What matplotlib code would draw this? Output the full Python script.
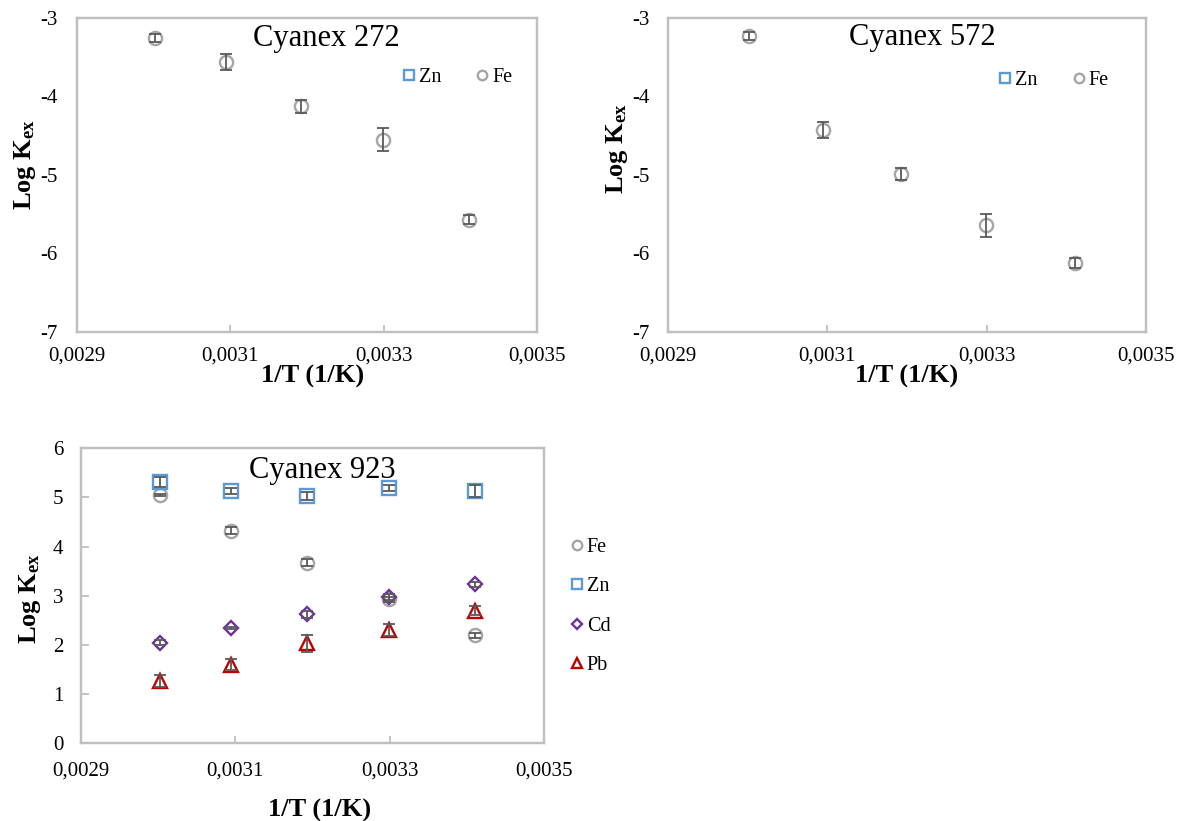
import matplotlib
matplotlib.use('Agg')
import matplotlib.pyplot as plt
from matplotlib.ticker import FixedLocator, FixedFormatter

plt.rcParams['font.family'] = ['Liberation Serif', 'DejaVu Serif']
plt.rcParams['mathtext.fontset'] = 'custom'
plt.rcParams['mathtext.rm'] = 'Liberation Serif'
plt.rcParams['mathtext.it'] = 'Liberation Serif:italic'
plt.rcParams['mathtext.bf'] = 'Liberation Serif:bold'
plt.rcParams['axes.unicode_minus'] = False

# ---------------- data ----------------
inv_T = [0.003002, 0.003095, 0.003193, 0.003299, 0.003411]

c272_fe = [-3.26, -3.565, -4.125, -4.55, -5.57]
c272_fe_err = [0.05, 0.10, 0.08, 0.15, 0.06]

c572_fe = [-3.23, -4.43, -4.99, -5.645, -6.12]
c572_fe_err = [0.05, 0.10, 0.075, 0.145, 0.065]

c923_fe = [5.05, 4.32, 3.67, 2.93, 2.20]
c923_fe_err = [0.03, 0.07, 0.07, 0.05, 0.05]
c923_zn = [5.31, 5.13, 5.03, 5.20, 5.13]
c923_zn_err = [0.10, 0.06, 0.08, 0.06, 0.13]
c923_cd = [2.05, 2.34, 2.62, 2.98, 3.23]
c923_cd_err = [0.06, 0.02, 0.08, 0.06, 0.06]
c923_pb = [1.27, 1.60, 2.03, 2.31, 2.70]
c923_pb_err = [0.12, 0.11, 0.17, 0.12, 0.10]

x_ticks = [0.0029, 0.0031, 0.0033, 0.0035]
x_tick_labels = ['0,0029', '0,0031', '0,0033', '0,0035']
y_ticks_top = [-7, -6, -5, -4, -3]
y_tick_labels_top = ['-7', '-6', '-5', '-4', '-3']
y_ticks_bot = [0, 1, 2, 3, 4, 5, 6]
y_tick_labels_bot = ['0', '1', '2', '3', '4', '5', '6']

titles = ['Cyanex 272', 'Cyanex 572', 'Cyanex 923']
xlabel = '1/T (1/K)'
ylabel = r'$\mathbf{Log\ K_{ex}}$'

# ---------------- styles ----------------
C_FE = '#A5A5A5'
C_ZN = '#5B9BD5'
C_CD = '#7030A0'
C_PB = '#C00000'
C_ERR = '#595959'
C_FRAME = '#BFBFBF'

W, H = 1181, 821
fig = plt.figure(figsize=(W / 100, H / 100), dpi=100)


def px_axes(l, t, r, b):
    return fig.add_axes([l / W, 1 - b / H, (r - l) / W, (b - t) / H])


ax1 = px_axes(76.7, 18, 537, 331.7)
ax2 = px_axes(668, 18, 1146, 331.7)
ax3 = px_axes(81, 448.3, 544, 743.3)

mk = dict(fe=dict(marker='o', ms=9.5, color=C_FE),
          zn=dict(marker='s', ms=10.5, color=C_ZN),
          cd=dict(marker='D', ms=7, color=C_CD),
          pb=dict(marker='^', ms=10, color=C_PB))


def series(ax, x, y, err, key, label):
    st = mk[key]
    ax.plot(x, y, ls='none', marker=st['marker'], ms=st['ms'], mfc='none',
            mec=st['color'], mew=1.7, label=label, zorder=3)
    if len(x):
        ax.errorbar(x, y, yerr=err, fmt='none', ecolor=C_ERR, elinewidth=1.3,
                    capsize=4, capthick=1.3, zorder=4)


def style(ax, yt, ytl, ylim, xpad, ypad, yticklen):
    ax.set_xlim(0.0029, 0.0035)
    ax.set_ylim(*ylim)
    ax.xaxis.set_major_locator(FixedLocator(x_ticks))
    ax.xaxis.set_major_formatter(FixedFormatter(x_tick_labels))
    ax.yaxis.set_major_locator(FixedLocator(yt))
    ax.yaxis.set_major_formatter(FixedFormatter(ytl))
    for s in ax.spines.values():
        s.set_color(C_FRAME)
        s.set_linewidth(1.75)
    ax.tick_params(axis='x', direction='in', length=5, width=1.3,
                   color=C_FRAME, labelsize=15, pad=xpad)
    ax.tick_params(axis='y', direction='in', length=yticklen, width=1.3,
                   color=C_FRAME, labelsize=15, pad=ypad)


# Cyanex 272
series(ax1, [], [], [], 'zn', 'Zn')
series(ax1, inv_T, c272_fe, c272_fe_err, 'fe', 'Fe')
style(ax1, y_ticks_top, y_tick_labels_top, (-7, -3), 11, 13.5, 0)

# Cyanex 572
series(ax2, [], [], [], 'zn', 'Zn')
series(ax2, inv_T, c572_fe, c572_fe_err, 'fe', 'Fe')
style(ax2, y_ticks_top, y_tick_labels_top, (-7, -3), 11, 13.5, 0)

# Cyanex 923
series(ax3, inv_T, c923_fe, c923_fe_err, 'fe', 'Fe')
series(ax3, inv_T, c923_zn, c923_zn_err, 'zn', 'Zn')
series(ax3, inv_T, c923_cd, c923_cd_err, 'cd', 'Cd')
series(ax3, inv_T, c923_pb, c923_pb_err, 'pb', 'Pb')
style(ax3, y_ticks_bot, y_tick_labels_bot, (0, 6), 13, 12.7, 6)

# titles
ax1.text(0.5416, 0.935, titles[0], transform=ax1.transAxes, fontsize=22,
         ha='center', va='center')
ax2.text(0.531, 0.937, titles[1], transform=ax2.transAxes, fontsize=22,
         ha='center', va='center')
ax3.text(0.522, 0.926, titles[2], transform=ax3.transAxes, fontsize=22,
         ha='center', va='center')

# legends
leg_kw = dict(frameon=False, fontsize=14.5, loc='center left', borderaxespad=0,
              borderpad=0, handlelength=0.7, handletextpad=0.15, markerscale=0.72)
ax1.legend(ncol=2, columnspacing=1.7, bbox_to_anchor=(0.7056, 0.811), **leg_kw)
ax2.legend(ncol=2, columnspacing=1.7, bbox_to_anchor=(0.690, 0.802), **leg_kw)
ax3.legend(ncol=1, labelspacing=1.0, bbox_to_anchor=(1.0555, 0.4635), **leg_kw)


# axis labels (pixel positions)
def ftext(x, y, s, **kw):
    fig.text(x / W, 1 - y / H, s, ha='center', va='center', **kw)


ftext(313, 376, xlabel, fontsize=19, fontweight='bold')
ftext(907, 376, xlabel, fontsize=19, fontweight='bold')
ftext(320, 810, xlabel, fontsize=19, fontweight='bold')
ftext(25, 165, ylabel, fontsize=19, rotation=90)
ftext(616.7, 149, ylabel, fontsize=19, rotation=90)
ftext(30, 599, ylabel, fontsize=19, rotation=90)

fig.savefig('out.png', dpi=100)
